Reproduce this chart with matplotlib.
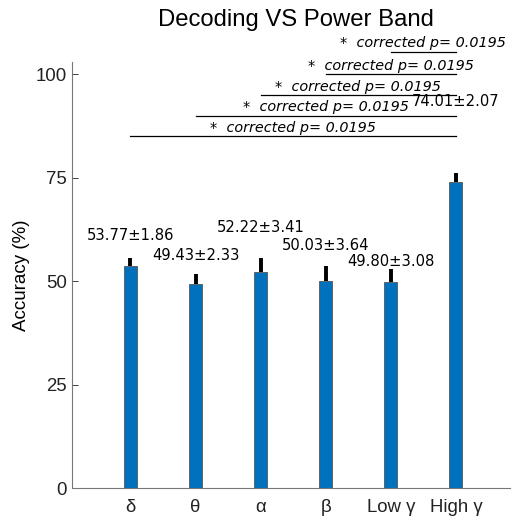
import matplotlib
matplotlib.use("Agg")
import matplotlib.pyplot as plt

bands = ["δ", "θ", "α", "β", "Low γ", "High γ"]
acc = [53.77, 49.43, 52.22, 50.03, 49.80, 74.01]
sem = [1.86, 2.33, 3.41, 3.64, 3.08, 2.07]
# y where each mean±sem label sits
label_y = [61.0, 56.2, 63.0, 58.6, 54.8, 93.4]

# significance: (from bar, to bar, line height), all vs High gamma
sig_from = [1, 2, 3, 4, 5]
sig_to = [6, 6, 6, 6, 6]
sig_y = [85, 90, 95, 100, 105.5]
sig_text = "*  corrected p= 0.0195"

plt.rcParams['font.family'] = ['Liberation Sans', 'DejaVu Sans']

fig = plt.figure(figsize=(5.13, 5.2), dpi=100)
ax = fig.add_axes([0.140, 0.0615, 0.854, 0.8195])

x = list(range(1, len(bands) + 1))
ax.bar(x, acc, width=0.2, color='#0072BD', edgecolor='#555555', linewidth=0.6, zorder=2)
ax.errorbar(x, acc, yerr=[[0] * len(sem), sem], fmt='none', ecolor='black',
            elinewidth=2.8, capsize=0, zorder=3)

for xi, m, s, ly in zip(x, acc, sem, label_y):
    ax.text(xi, ly, "%.2f±%.2f" % (m, s), ha='center', va='center',
            fontsize=10.6, family='DejaVu Sans')

for a, b, y in zip(sig_from, sig_to, sig_y):
    ax.plot([a, b], [y, y], color='black', lw=0.9, clip_on=False)
    ax.text((a + b) / 2, y + 0.3, sig_text, ha='center', va='bottom',
            fontsize=10.4, style='italic', family='DejaVu Sans', clip_on=False)

ax.set_xlim(0.1, 6.83)
ax.set_ylim(0, 103)
ax.set_yticks([0, 25, 50, 75, 100])
ax.set_xticks(x)
ax.set_xticklabels(bands)
ax.tick_params(direction='in', length=4, labelsize=13.4, colors='#222222', width=0.6)
ax.tick_params(axis='x', pad=8)
for side in ['top', 'right']:
    ax.spines[side].set_visible(False)
for side in ['left', 'bottom']:
    ax.spines[side].set_color('#777777')
    ax.spines[side].set_linewidth(0.8)
ax.set_ylabel("Accuracy (%)", fontsize=13.5)
fig.text(0.577, 0.962, "Decoding VS Power Band", ha='center', va='center', fontsize=17.2)

fig.savefig("out.png", dpi=100)
